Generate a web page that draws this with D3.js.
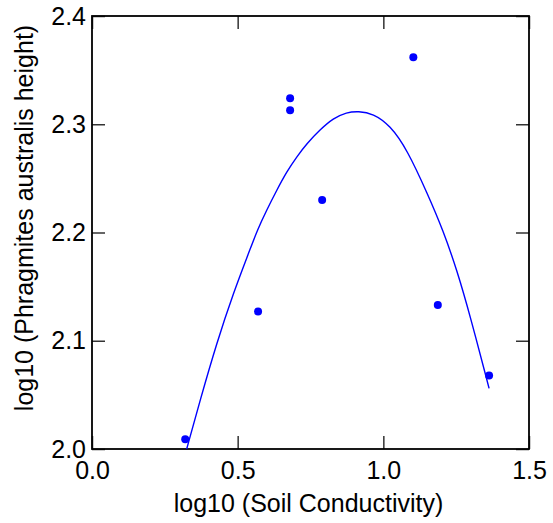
<!DOCTYPE html>
<html>
<head>
<meta charset="utf-8">
<script src="https://cdn.jsdelivr.net/npm/d3@7.9.0/dist/d3.min.js"></script>
<style>
  html, body { margin: 0; padding: 0; background: #fff; }
  svg text { font-family: "Liberation Sans", Arial, sans-serif; fill: #000; }
</style>
</head>
<body>
<svg width="553" height="523"></svg>
<script>
// observed points
const soilX = [0.320, 0.570, 0.680, 0.680, 0.790, 1.103, 1.187, 1.363];
const heightY = [2.009, 2.127, 2.324, 2.313, 2.230, 2.362, 2.133, 2.068];

// fitted curve
const fitX = [0.325, 0.371, 0.428, 0.485, 0.542, 0.567, 0.600, 0.634, 0.668, 0.703, 0.737, 0.783, 0.828, 0.874, 0.914, 0.965, 1.023, 1.081, 1.153, 1.205, 1.253, 1.298, 1.363];
const fitY = [2.000, 2.045, 2.098, 2.144, 2.184, 2.202, 2.221, 2.239, 2.256, 2.270, 2.282, 2.295, 2.3055, 2.311, 2.312, 2.310, 2.299, 2.277, 2.235, 2.202, 2.165, 2.123, 2.056];

const xTicks = [0.0, 0.5, 1.0, 1.5];
const yTicks = [2.0, 2.1, 2.2, 2.3, 2.4];

const xTitle = 'log10 (Soil Conductivity)';
const yTitle = 'log10 (Phragmites australis height)';

const plotL = 92, plotR = 529, plotT = 16, plotB = 449;
const tickLen = 13;

const svg = d3.select('svg');
const x = d3.scaleLinear().domain([0, 1.5]).range([plotL, plotR]);
const y = d3.scaleLinear().domain([2.0, 2.4]).range([plotB, plotT]);

// inner ticks on all four sides
const tickStyle = g => {
  g.select('.domain').remove();
  g.selectAll('.tick line').attr('stroke', '#333').attr('stroke-width', 1.5);
};

svg.append('g')
  .attr('transform', `translate(0,${plotB})`)
  .call(d3.axisBottom(x).tickValues(xTicks).tickSize(-tickLen).tickFormat(d3.format('.1f')))
  .call(tickStyle)
  .selectAll('text').attr('font-size', 25).attr('y', 12).attr('dy', '0.71em');

svg.append('g')
  .attr('transform', `translate(0,${plotT})`)
  .call(d3.axisTop(x).tickValues(xTicks).tickSize(-tickLen).tickFormat(''))
  .call(tickStyle);

svg.append('g')
  .attr('transform', `translate(${plotL},0)`)
  .call(d3.axisLeft(y).tickValues(yTicks).tickSize(-tickLen).tickFormat(d3.format('.1f')))
  .call(tickStyle)
  .selectAll('text').attr('font-size', 25).attr('x', -6);

svg.append('g')
  .attr('transform', `translate(${plotR},0)`)
  .call(d3.axisRight(y).tickValues(yTicks).tickSize(-tickLen).tickFormat(''))
  .call(tickStyle);

// frame
svg.append('rect')
  .attr('x', plotL).attr('y', plotT)
  .attr('width', plotR - plotL).attr('height', plotB - plotT)
  .attr('fill', 'none').attr('stroke', '#000').attr('stroke-width', 1.8);

// fitted curve (B-spline smooths out reading noise)
const line = d3.line()
  .x(i => x(fitX[i]))
  .y(i => y(fitY[i]))
  .curve(d3.curveBasis);

svg.append('path')
  .attr('d', line(d3.range(fitX.length)))
  .attr('fill', 'none')
  .attr('stroke', '#0000ff')
  .attr('stroke-width', 1.4);

// points
svg.append('g')
  .selectAll('circle')
  .data(d3.range(soilX.length))
  .join('circle')
  .attr('cx', i => x(soilX[i]))
  .attr('cy', i => y(heightY[i]))
  .attr('r', 4)
  .attr('fill', '#0000ff');

// axis titles
svg.append('text')
  .attr('x', (plotL + plotR) / 2 - 2)
  .attr('y', 512)
  .attr('text-anchor', 'middle')
  .attr('font-size', 25)
  .text(xTitle);

svg.append('text')
  .attr('transform', `translate(33,218) rotate(-90)`)
  .attr('text-anchor', 'middle')
  .attr('font-size', 25)
  .text(yTitle);
</script>
</body>
</html>
